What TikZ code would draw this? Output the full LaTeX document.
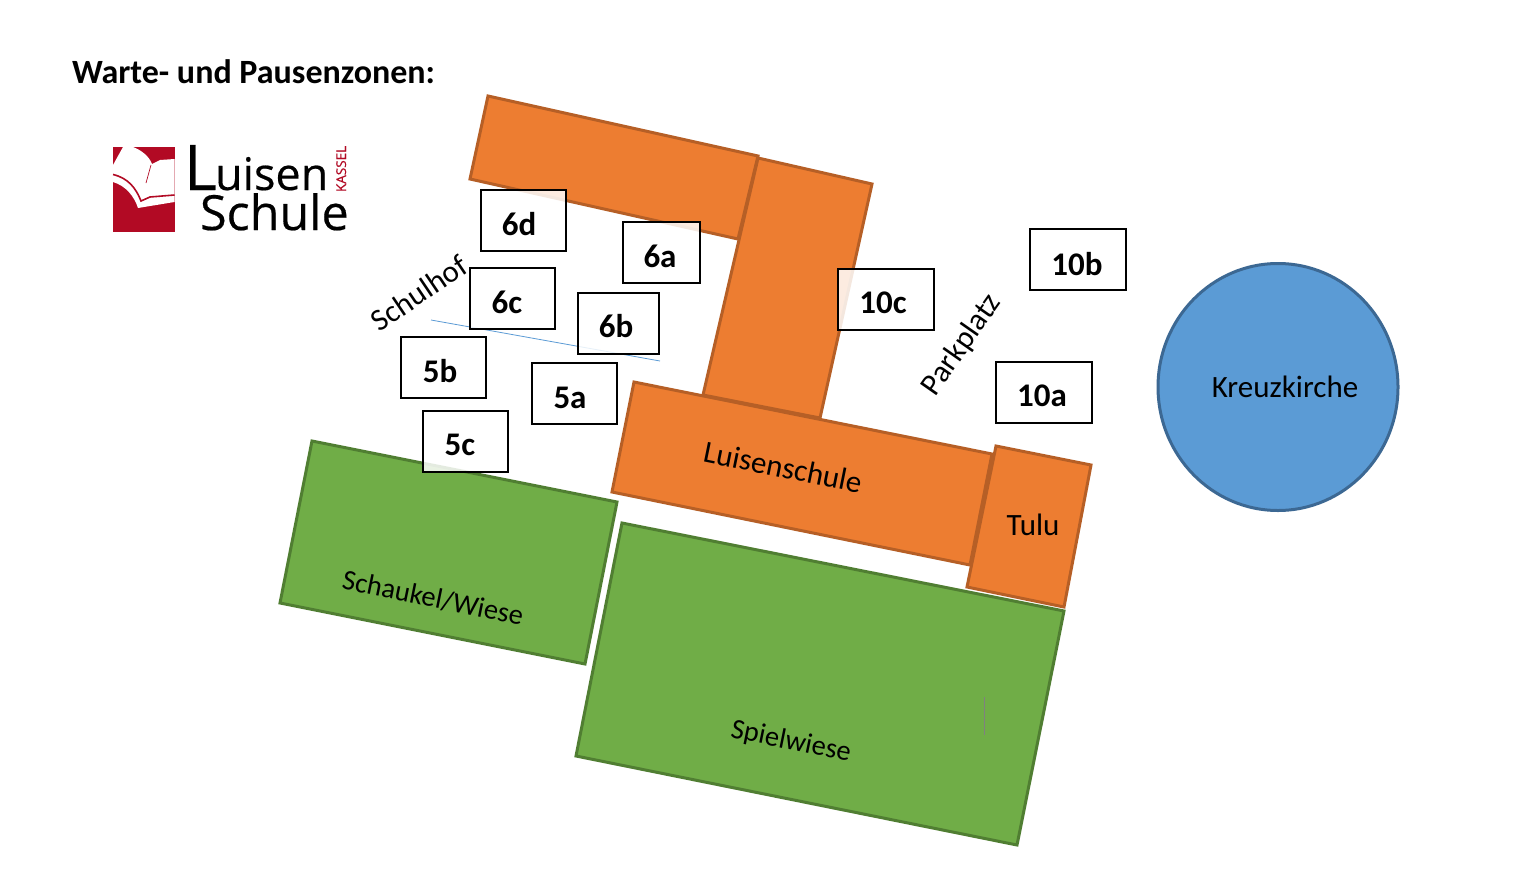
\documentclass[tikz,border=0pt]{standalone}
\usepackage{fontspec}
\setmainfont{Carlito}
\newfontfamily\logofont[FakeBold=0.4]{Open Sans}
\usepackage{tikz}
\usetikzlibrary{shapes.geometric}
\definecolor{haus}{RGB}{237,125,49}
\definecolor{hausrand}{RGB}{182,95,38}
\definecolor{wiese}{RGB}{112,173,71}
\definecolor{wieserand}{RGB}{80,126,50}
\definecolor{kirche}{RGB}{91,155,213}
\definecolor{kirchrand}{RGB}{60,104,147}
\definecolor{logorot}{RGB}{178,10,36}
\begin{document}
\begin{tikzpicture}[x=1pt,y=-1pt]
\tikzstyle{every node}=[inner sep=0pt,outer sep=0pt]
\tikzstyle{haus}=[fill=haus,draw=hausrand,line width=3pt]
\tikzstyle{wiese}=[fill=wiese,draw=wieserand,line width=3pt]
\tikzstyle{zone}=[draw=black,line width=2pt,fill=white,fill opacity=0.85,minimum height=61pt]
\tikzstyle{zonetext}=[font=\fontsize{33}{33}\selectfont\bfseries,text=black]
\tikzstyle{ort}=[font=\fontsize{31}{31}\selectfont,text=black]
\tikzstyle{wiesetext}=[font=\fontsize{28.5}{28.5}\selectfont,text=black]
\useasboundingbox (0,0) rectangle (1530,894);
\fill[white] (0,0) rectangle (1530,894);
\node[anchor=west,font=\fontsize{34}{34}\selectfont\bfseries] (titel) at (72,72) {Warte- und Pausenzonen:};
% logo
\fill[logorot] (113,147) rectangle (174.5,232);
\fill[white] (123,147) -- (113,165) -- (113,182) .. controls (126,186) and (134,196) .. (138,208)
  -- (174.5,202) -- (174.5,159) -- (160,160) -- (152,164) .. controls (149,156) and (141,150) .. (133,147) -- cycle;
\draw[logorot,line width=1.6pt] (113,174.5) .. controls (128,178) and (136,188) .. (141,201) -- (150,197) -- (174.5,195);
\draw[logorot,line width=0.7pt] (151,165) -- (146,183);
\node[font=\logofont\fontsize{63}{63}\selectfont,anchor=base west] (logoL) at (184,190) {L};
\node[font=\logofont\fontsize{45}{45}\selectfont,anchor=base west] (logoa) at (215,190) {uisen};
\node[font=\logofont\fontsize{48.5}{48.5}\selectfont,anchor=base west] (logob) at (200,230) {Schule};
\node[font=\logofont\fontsize{13.5}{13.5}\selectfont,text=logorot,rotate=90,anchor=base west] (logoc) at (346,192) {KASSEL};
% gebaeude
\draw[haus] (488,96) -- (758,156) -- (738,239) -- (470,179) -- cycle;
\draw[haus] (758,158) -- (872,184) -- (820,418) -- (703,395) -- cycle;
\draw[haus] (634,382) -- (992,454) -- (970,565) -- (612,492) -- cycle;
\draw[haus] (996,446) -- (1091,465) -- (1064,607) -- (967,587) -- cycle;
\draw[wiese] (312,441) -- (617,502) -- (585,664) -- (280,603) -- cycle;
\draw[wiese] (622,523) -- (1064,611) -- (1017,845) -- (576,756) -- cycle;
\node[ellipse,draw=kirchrand,fill=kirche,line width=3pt,line join=round,minimum width=240pt,minimum height=247pt] (kirche) at (1278,387) {};
\coordinate (strichA) at (431,320);
\coordinate (strichB) at (660,361);
\draw[kirche,line width=0.8pt] (strichA) -- (strichB);
\coordinate (markeA) at (984.5,697);
\coordinate (markeB) at (984.5,735);
\draw[gray,line width=1pt] (markeA) -- (markeB);
% zonen
\node[zone,minimum width=85pt] (z6d) at (523.5,220.5) {};
\node[zone,minimum width=77pt] (z6a) at (661.5,252.5) {};
\node[zone,minimum width=85pt] (z6c) at (512.5,298.5) {};
\node[zone,minimum width=81pt] (z6b) at (618.5,323.5) {};
\node[zone,minimum width=85pt] (z5b) at (443.5,367.5) {};
\node[zone,minimum width=85pt] (z5a) at (574.5,393.5) {};
\node[zone,minimum width=85pt] (z5c) at (465.5,441.5) {};
\node[zone,minimum width=96pt] (z10c) at (886,299.5) {};
\node[zone,minimum width=96pt] (z10b) at (1078,259.5) {};
\node[zone,minimum width=96pt] (z10a) at (1044,392.5) {};
\node[zonetext] (t6d) at (519,224) {6d};
\node[zonetext] (t6a) at (660,256) {6a};
\node[zonetext] (t6c) at (507,302) {6c};
\node[zonetext] (t6b) at (616,326) {6b};
\node[zonetext] (t5b) at (440,371) {5b};
\node[zonetext] (t5a) at (570,398) {5a};
\node[zonetext] (t5c) at (460,445) {5c};
\node[zonetext] (t10c) at (883,303) {10c};
\node[zonetext] (t10b) at (1077,264) {10b};
\node[zonetext] (t10a) at (1042,396) {10a};
% beschriftung
\node[ort,rotate=-11.5] (luisen) at (783,467) {Luisenschule};
\node[ort] (tulu) at (1033,525) {Tulu};
\node[ort] (kreuz) at (1285,387) {Kreuzkirche};
\node[wiesetext,rotate=-11.5] (schaukel) at (433,598) {Schaukel/Wiese};
\node[wiesetext,rotate=-11.5] (spiel) at (791,742) {Spielwiese};
\node[ort,rotate=34] (schulhof) at (419,293) {Schulhof};
\node[ort,rotate=55] (park) at (962,345) {Parkplatz};
\end{tikzpicture}
\end{document}
